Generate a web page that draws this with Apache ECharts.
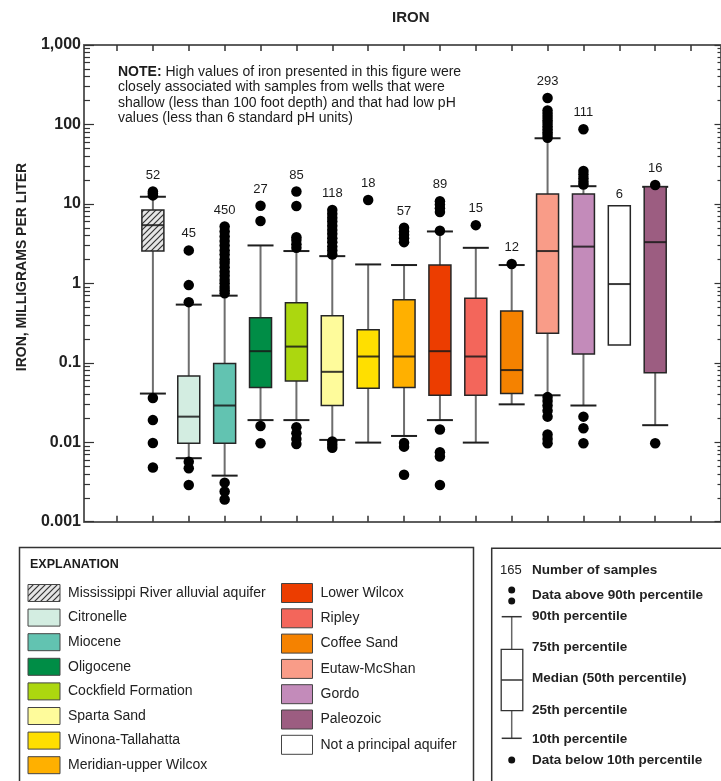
<!DOCTYPE html>
<html>
<head>
<meta charset="utf-8">
<script src="https://cdn.jsdelivr.net/npm/echarts@6.0.0/dist/echarts.min.js"></script>
<style>
html, body { margin: 0; padding: 0; background: #fff; }
#chart { width: 721px; height: 781px; }
</style>
</head>
<body>
<div id="chart"></div>
<script>
// aquifers, left to right as plotted
var aquifers = ['Mississippi River alluvial aquifer', 'Citronelle', 'Miocene', 'Oligocene', 'Cockfield Formation',
    'Sparta Sand', 'Winona-Tallahatta', 'Meridian-upper Wilcox', 'Lower Wilcox', 'Ripley', 'Coffee Sand',
    'Eutaw-McShan', 'Gordo', 'Not a principal aquifer', 'Paleozoic'];
var sampleCount = [52, 45, 450, 27, 85, 118, 18, 57, 89, 15, 12, 293, 111, 6, 16];

// percentiles, milligrams per liter
var p10 = [0.041, 0.0063, 0.0038, 0.019, 0.019, 0.0107, 0.0099, 0.012, 0.019, 0.0099, 0.03, 0.039, 0.029, null, 0.0164];
var p25 = [2.55, 0.0097, 0.0097, 0.049, 0.059, 0.029, 0.048, 0.049, 0.039, 0.039, 0.041, 0.235, 0.129, 0.167, 0.075];
var p50 = [5.4, 0.021, 0.029, 0.14, 0.16, 0.077, 0.12, 0.12, 0.14, 0.12, 0.081, 2.55, 2.9, 0.98, 3.3];
var p75 = [8.4, 0.068, 0.098, 0.37, 0.57, 0.39, 0.26, 0.62, 1.7, 0.65, 0.45, 13.3, 13.3, 9.5, 16.4];
var p90 = [12.3, 0.54, 0.7, 3.0, 2.55, 2.2, 1.73, 1.7, 4.5, 2.8, 1.7, 67, 16.7, null, 16.4];

// data above 90th / below 10th percentile
var highOutliers = [
    [12.8, 13.6, 14.3],
    [0.58, 0.95, 2.6],
    [0.75, 0.82, 0.9, 1.0, 1.1, 1.25, 1.4, 1.6, 1.8, 2.0, 2.3, 2.6, 3.0, 3.4, 3.9, 4.5, 5.2],
    [6.1, 9.5],
    [2.8, 3.1, 3.5, 3.8, 9.4, 14.3],
    [2.3, 2.6, 2.9, 3.3, 3.7, 4.2, 4.7, 5.3, 6.0, 6.7, 7.5, 8.4],
    [11.2],
    [3.3, 3.7, 4.1, 4.5, 5.0],
    [4.6, 7.9, 8.8, 9.8, 10.8],
    [5.4],
    [1.75],
    [68, 74, 80, 87, 95, 104, 113, 124, 136, 150, 215],
    [17.5, 19, 21, 23.5, 26, 87],
    [],
    [17.3]
];
var lowOutliers = [
    [0.036, 0.019, 0.0098, 0.0048],
    [0.0057, 0.0047, 0.0029],
    [0.0031, 0.0024, 0.0019],
    [0.016, 0.0097],
    [0.0155, 0.013, 0.011, 0.0095],
    [0.0102, 0.0093, 0.0085],
    [],
    [0.0098, 0.0088, 0.0039],
    [0.0145, 0.0075, 0.0066, 0.0029],
    [],
    [],
    [0.037, 0.033, 0.029, 0.025, 0.021, 0.0125, 0.011, 0.0097],
    [0.021, 0.015, 0.0097],
    [],
    [0.0097]
];

var yTickLabels = [0.001, 0.01, 0.1, 1, 10, 100, 1000];

var boxColors = ['hatch', '#d3ede1', '#62c3b1', '#008d46', '#acd70f', '#fefb9b', '#ffdf00', '#ffb000',
    '#ec3d00', '#f3665b', '#f58200', '#f99c88', '#c38bba', '#ffffff', '#9c5d81'];

var FONT = '"Liberation Sans", Arial, sans-serif';

//斜线填充 (Mississippi River alluvial aquifer)
var hatch = document.createElement('canvas');
hatch.width = 6;
hatch.height = 6;
var g = hatch.getContext('2d');
g.fillStyle = '#e6e6e6';
g.fillRect(0, 0, 6, 6);
g.strokeStyle = '#333';
g.lineWidth = 1.2;
g.beginPath();
g.moveTo(0, 6); g.lineTo(6, 0);
g.moveTo(-1, 1); g.lineTo(1, -1);
g.moveTo(5, 7); g.lineTo(7, 5);
g.stroke();
var hatchFill = { image: hatch, repeat: 'repeat' };

function fillOf(i) {
    return boxColors[i] === 'hatch' ? hatchFill : boxColors[i];
}

// tick values
var xTicks = [];
for (var k = 0; k <= 16; k++) xTicks.push(k);
var minorTicks = [];
for (var d = -3; d <= 2; d++) {
    for (var m = 2; m <= 9; m++) minorTicks.push(+(m * Math.pow(10, d)).toPrecision(3));
}

var boxData = aquifers.map(function (name, i) {
    return [i + 1, p10[i] == null ? p25[i] : p10[i], p25[i], p50[i], p75[i], p90[i] == null ? p75[i] : p90[i]];
});

var dots = [];
aquifers.forEach(function (name, i) {
    highOutliers[i].forEach(function (v) { dots.push([i + 1, v]); });
    lowOutliers[i].forEach(function (v) { dots.push([i + 1, v]); });
});

function renderBox(params, api) {
    var i = params.dataIndex;
    var x = i + 1;
    var y = function (v) { return api.coord([x, v])[1]; };
    var cx = api.coord([x, p50[i]])[0];
    var yq1 = y(p25[i]), yq3 = y(p75[i]), ymed = y(p50[i]);
    var kids = [];
    var whisker = { stroke: '#6e6e6e', lineWidth: 2 };
    var cap = { stroke: '#1e1e1e', lineWidth: 2 };
    if (p90[i] != null) {
        var yh = y(p90[i]);
        kids.push({ type: 'line', shape: { x1: cx, y1: yq3, x2: cx, y2: yh }, style: whisker });
        kids.push({ type: 'line', shape: { x1: cx - 13, y1: yh, x2: cx + 13, y2: yh }, style: cap });
    }
    if (p10[i] != null) {
        var yl = y(p10[i]);
        kids.push({ type: 'line', shape: { x1: cx, y1: yq1, x2: cx, y2: yl }, style: whisker });
        kids.push({ type: 'line', shape: { x1: cx - 13, y1: yl, x2: cx + 13, y2: yl }, style: cap });
    }
    kids.push({
        type: 'rect',
        shape: { x: cx - 11, y: yq3, width: 22, height: yq1 - yq3 },
        style: { fill: fillOf(i), stroke: '#262626', lineWidth: 1.5 }
    });
    kids.push({
        type: 'line',
        shape: { x1: cx - 11, y1: ymed, x2: cx + 11, y2: ymed },
        style: { stroke: 'rgba(25,25,25,0.85)', lineWidth: 2 }
    });
    // number of samples above the highest mark
    var hi = highOutliers[i];
    var topVal = Math.max.apply(null, [p75[i], p90[i] == null ? p75[i] : p90[i]].concat(hi));
    var topEdge = y(topVal) - (hi.length ? 5 : 0);
    kids.push({
        type: 'text',
        x: cx,
        y: topEdge - 11.5,
        style: {
            text: String(sampleCount[i]),
            align: 'center', verticalAlign: 'middle',
            textAlign: 'center', textVerticalAlign: 'middle',
            font: '13px ' + FONT,
            fill: '#1b1b1b'
        }
    });
    return { type: 'group', children: kids };
}

// explanation panel
var legendCol1 = [0, 1, 2, 3, 4, 5, 6, 7];
var legendCol2 = [8, 9, 10, 11, 12, 14, 13];
var graphics = [];

graphics.push({
    type: 'text', x: 22, y: 267, rotation: Math.PI / 2,
    style: {
        text: 'IRON, MILLIGRAMS PER LITER', align: 'center', verticalAlign: 'middle',
        textAlign: 'center', textVerticalAlign: 'middle',
        font: 'bold 14px ' + FONT, fill: '#222'
    }
});
graphics.push({
    type: 'text', x: 118, y: 64,
    style: {
        text: '{b|NOTE:} High values of iron presented in this figure were\n' +
            'closely associated with samples from wells that were\n' +
            'shallow (less than 100 foot depth) and that had low pH\n' +
            'values (less than 6 standard pH units)',
        font: '14px ' + FONT, fill: '#1b1b1b', lineHeight: 15.5,
        rich: { b: { fontWeight: 'bold', fontSize: 14, fontFamily: FONT, lineHeight: 15.5 } }
    }
});

graphics.push({
    type: 'rect', shape: { x: 19.5, y: 547.5, width: 454, height: 260 },
    style: { fill: null, stroke: '#333', lineWidth: 1.5 }
});
graphics.push({
    type: 'text', x: 30, y: 565,
    style: { text: 'EXPLANATION', verticalAlign: 'middle', textVerticalAlign: 'middle', font: 'bold 12.5px ' + FONT, fill: '#1b1b1b' }
});
legendCol1.forEach(function (idx, r) {
    var ry = 593 + 24.6 * r;
    graphics.push({
        type: 'rect', shape: { x: 28, y: ry - 8.5, width: 32, height: 17 },
        style: { fill: fillOf(idx), stroke: '#444', lineWidth: 1 }
    });
    graphics.push({
        type: 'text', x: 68, y: ry,
        style: { text: aquifers[idx], verticalAlign: 'middle', textVerticalAlign: 'middle', font: '14px ' + FONT, fill: '#222' }
    });
});
legendCol2.forEach(function (idx, r) {
    var ry = 593 + 25.3 * r;
    graphics.push({
        type: 'rect', shape: { x: 281.5, y: ry - 9.5, width: 31, height: 19 },
        style: { fill: fillOf(idx), stroke: '#444', lineWidth: 1 }
    });
    graphics.push({
        type: 'text', x: 320.5, y: ry,
        style: { text: aquifers[idx], verticalAlign: 'middle', textVerticalAlign: 'middle', font: '14px ' + FONT, fill: '#222' }
    });
});

// box key
graphics.push({
    type: 'rect', shape: { x: 491.7, y: 548.3, width: 250, height: 260 },
    style: { fill: null, stroke: '#333', lineWidth: 1.5 }
});
var keyText = [
    ['Number of samples', 570],
    ['Data above 90th percentile', 595],
    ['90th percentile', 616],
    ['75th percentile', 647.3],
    ['Median (50th percentile)', 678.3],
    ['25th percentile', 710],
    ['10th percentile', 739.3],
    ['Data below 10th percentile', 760]
];
keyText.forEach(function (t) {
    graphics.push({
        type: 'text', x: 532, y: t[1],
        style: { text: t[0], verticalAlign: 'middle', textVerticalAlign: 'middle', font: 'bold 13.5px ' + FONT, fill: '#222' }
    });
});
graphics.push({
    type: 'text', x: 500, y: 570,
    style: { text: '165', verticalAlign: 'middle', textVerticalAlign: 'middle', font: '13px ' + FONT, fill: '#222' }
});
[590, 601, 760].forEach(function (cy) {
    graphics.push({ type: 'circle', shape: { cx: 511.7, cy: cy, r: 3.5 }, style: { fill: '#111' } });
});
graphics.push({ type: 'line', shape: { x1: 511.7, y1: 616.7, x2: 511.7, y2: 738.3 }, style: { stroke: '#666', lineWidth: 1.5 } });
graphics.push({ type: 'line', shape: { x1: 501.7, y1: 616.7, x2: 521.7, y2: 616.7 }, style: { stroke: '#333', lineWidth: 1.5 } });
graphics.push({ type: 'line', shape: { x1: 501.7, y1: 738.3, x2: 521.7, y2: 738.3 }, style: { stroke: '#333', lineWidth: 1.5 } });
graphics.push({ type: 'rect', shape: { x: 501.2, y: 649.3, width: 21.6, height: 61.4 }, style: { fill: '#fff', stroke: '#333', lineWidth: 1.3 } });
graphics.push({ type: 'line', shape: { x1: 501.2, y1: 680, x2: 522.8, y2: 680 }, style: { stroke: '#333', lineWidth: 1.5 } });

function xAxisOf(pos) {
    return {
        type: 'value', position: pos, min: -0.92, max: 16.82,
        axisLine: { show: true, onZero: false, lineStyle: { color: '#5e5e5e', width: 2 } },
        axisTick: { show: true, inside: true, length: 6, customValues: xTicks, lineStyle: { color: '#333', width: 1.5 } },
        axisLabel: { show: false },
        splitLine: { show: false }
    };
}

function yAxisOf(pos, ticks, len, labels) {
    return {
        type: 'log', logBase: 10, min: 0.001, max: 1000, position: pos,
        axisLine: { show: labels !== null || ticks === yTickLabels, onZero: false, lineStyle: { color: '#5e5e5e', width: 2 } },
        axisTick: { show: true, inside: true, length: len, customValues: ticks, lineStyle: { color: '#333', width: 1.2 } },
        axisLabel: labels ? {
            show: true, customValues: yTickLabels, margin: 3,
            fontFamily: FONT, fontWeight: 'bold', fontSize: 16, color: '#222',
            formatter: function (v) { return v >= 1000 ? '1,000' : String(+(+v).toPrecision(3)); }
        } : { show: false },
        splitLine: { show: false },
        minorTick: { show: false }
    };
}

var chart = echarts.init(document.getElementById('chart'));
chart.setOption({
    animation: false,
    title: {
        text: 'IRON', left: 392, top: 10, padding: 0,
        textStyle: { fontFamily: FONT, fontWeight: 'bold', fontSize: 15, color: '#222' }
    },
    grid: { left: 84, top: 45, right: 0.5, bottom: 259.3, containLabel: false, outerBoundsMode: 'none' },
    xAxis: [xAxisOf('bottom'), xAxisOf('top')],
    yAxis: [
        yAxisOf('left', yTickLabels, 10, true),
        yAxisOf('left', minorTicks, 6, null),
        yAxisOf('right', yTickLabels, 6, false),
        yAxisOf('right', minorTicks, 3, null)
    ],
    graphic: graphics,
    series: [
        {
            type: 'custom',
            name: 'boxes',
            renderItem: renderBox,
            encode: { x: 0, y: [1, 2, 3, 4, 5] },
            data: boxData,
            z: 2
        },
        {
            type: 'scatter',
            name: 'outliers',
            data: dots,
            symbol: 'circle',
            symbolSize: 10.5,
            itemStyle: { color: '#000', opacity: 1 },
            z: 3
        }
    ]
});
</script>
</body>
</html>
